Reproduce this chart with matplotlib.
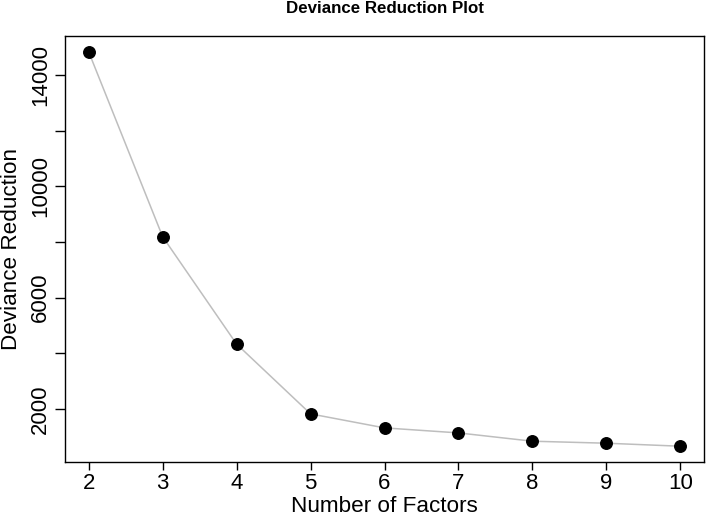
import matplotlib
matplotlib.use("Agg")
import matplotlib.pyplot as plt

factors = [2, 3, 4, 5, 6, 7, 8, 9, 10]
deviance = [14826, 8190, 4336, 1831, 1328, 1148, 850, 778, 670]
x_ticks = [2, 3, 4, 5, 6, 7, 8, 9, 10]
y_ticks = [2000, 4000, 6000, 8000, 10000, 12000, 14000]
y_tick_labels = ["2000", "", "6000", "", "10000", "", "14000"]

plt.rcParams['font.family'] = ['Liberation Sans', 'DejaVu Sans']

fig = plt.figure(figsize=(7.06, 5.16), dpi=100)
ax = fig.add_axes([65/706, 54/516, 639/706, 426/516])

ax.plot(factors, deviance, color='#BEBEBE', linewidth=1.1, zorder=2)
ax.plot(factors, deviance, 'o', color='black', markersize=8.3, zorder=3)

xr = max(factors) - min(factors)
ax.set_xlim(min(factors) - 0.04 * xr, max(factors) + 0.04 * xr)
yr = max(deviance) - min(deviance)
ax.set_ylim(min(deviance) - 0.04 * yr, max(deviance) + 0.04 * yr)

ax.set_xticks(x_ticks)
ax.set_xticklabels([str(v) for v in x_ticks])
ax.set_yticks(y_ticks)
ax.set_yticklabels(y_tick_labels, rotation=90, va='center')

ax.tick_params(axis='both', direction='out', length=6, width=1, labelsize=16, colors='black')
ax.tick_params(axis='x', pad=2)
ax.tick_params(axis='y', length=7, pad=3)

for s in ax.spines.values():
    s.set_linewidth(1)
    s.set_color('black')

ax.set_xlabel("Number of Factors", fontsize=16.2, labelpad=1)
ax.set_ylabel("Deviance Reduction", fontsize=16.2, labelpad=6)
fig.text(384.5/706, 1 - 8.8/516, "Deviance Reduction Plot", fontsize=12.2,
         fontweight='bold', ha='center', va='center')

fig.savefig("out.png", dpi=100)
